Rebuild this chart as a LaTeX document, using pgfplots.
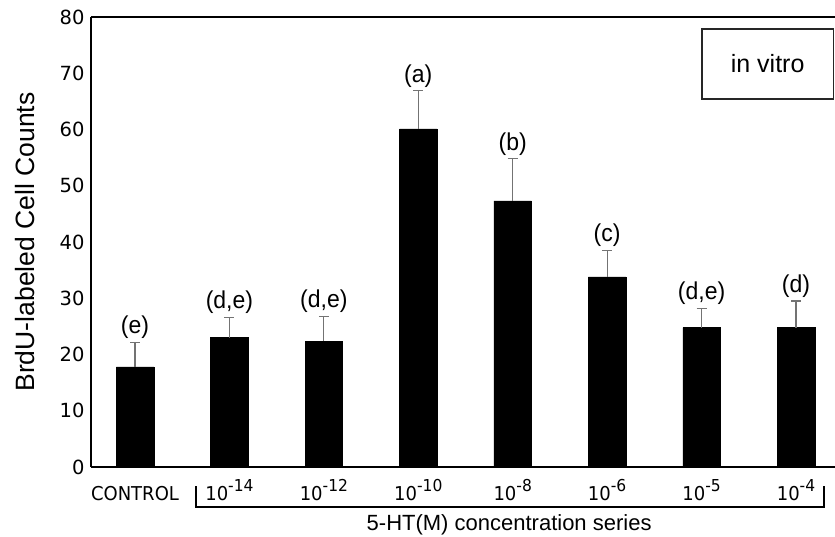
\documentclass[border=0pt]{standalone}
\usepackage{fontspec}
\setmainfont{Liberation Sans}
\newfontfamily\dejavu{DejaVu Sans}
\usepackage{pgfplots}
\usepackage{pgfplotstable}
\pgfplotsset{compat=1.18}
\pgfplotstableread{
x y e t lab
0 17.8 4.4 22.2 (e)
1 23.0 3.6 26.6 (d,e)
2 22.4 4.4 26.8 (d,e)
3 60.1 6.8 66.9 (a)
4 47.3 7.5 54.8 (b)
5 33.8 4.7 38.5 (c)
6 24.8 3.4 28.2 (d,e)
7 24.8 4.7 29.5 (d)
}\datatable
\newcommand{\xl}[1]{\scalebox{1}[1.06]{#1}}
\newcommand{\sep}[1]{\xl{10\raisebox{0.42em}{\fontsize{15.5}{15.5}\selectfont -#1}}}
\begin{document}
\begin{tikzpicture}
\useasboundingbox (-91pt,-69pt) rectangle (744pt,467pt);
\begin{axis}[
  at={(0pt,0pt)}, anchor=south west,
  scale only axis, width=744pt, height=450pt,
  xmin=-0.466, xmax=7.413, ymin=0, ymax=80,
  axis x line=box, axis y line=left,
  axis line style={-, line width=1.6pt, black},
  clip=false,
  major tick length=0pt,
  ytick={0,10,...,80},
  xtick={0,...,7},
  xticklabels={\xl{CONTROL},\sep{14},\sep{12},\sep{10},\sep{8},\sep{6},\sep{5},\sep{4}},
  /pgf/number format/assume math mode=true,
  xticklabel style={font=\dejavu\fontsize{18}{18}\selectfont, anchor=base, yshift=-33pt},
  yticklabel style={font=\dejavu\fontsize{19.5}{19.5}\selectfont, xshift=-3pt},
  xlabel={5-HT(M) concentration series},
  xlabel style={at={(axis description cs:0.562,-0.1422)}, anchor=base, font=\fontsize{22}{22}\selectfont},
  ylabel={BrdU-labeled Cell Counts},
  ylabel style={at={(axis description cs:-0.0887,0.5)}, anchor=center, font=\fontsize{26.5}{26.5}\selectfont},
]
\addplot[ybar, fill=black, draw=black, bar width=37.5pt,
  error bars/.cd, y dir=plus, y explicit,
  error bar style={line width=1.2pt, color=black!55},
  error mark options={rotate=90, line width=1.2pt, color=black!55, mark size=5pt}]
  table[x=x, y=y, y error=e] {\datatable};
\addplot[draw=none, mark=none,
  nodes near coords={\scalebox{1}[1.06]{\pgfplotspointmeta}},
  point meta=explicit symbolic,
  every node near coord/.append style={anchor=base, yshift=8.5pt, inner sep=0pt, font=\fontsize{23}{23}\selectfont}]
  table[x=x, y=t, meta=lab] {\datatable};
\draw[line width=1.5pt] (axis cs:0.645,-3.38) -- (axis cs:0.645,-7.11) -- (axis cs:7.297,-7.11) -- (axis cs:7.297,-3.38);
\draw[line width=1.4pt, draw=black!85] (axis cs:6.005,77.9) rectangle (axis cs:7.40,65.4);
\node[font=\fontsize{25}{25}\selectfont] at (axis cs:6.70,71.65) {in vitro};
\end{axis}
\end{tikzpicture}
\end{document}
